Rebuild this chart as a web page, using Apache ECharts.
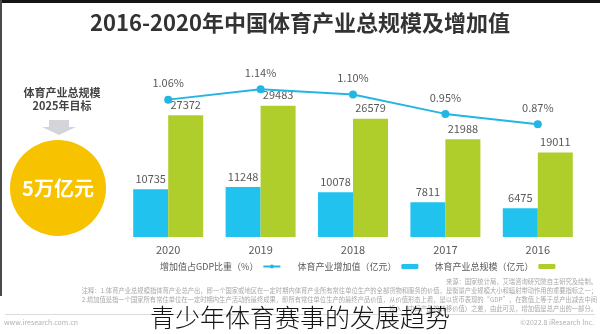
<!DOCTYPE html>
<html>
<head>
<meta charset="utf-8">
<script src="https://cdn.jsdelivr.net/npm/echarts@6/dist/echarts.min.js"></script>
<style>
  html, body { margin: 0; padding: 0; background: #fff; }
  #chart { width: 600px; height: 334px; }
</style>
</head>
<body>
<div id="chart"></div>
<script>
// 2016-2020 China sports industry: total output, value added, value added as share of GDP
const years = ['2016', '2017', '2018', '2019', '2020'];
const totalScale = [19011, 21988, 26579, 29483, 27372];   // 亿元
const addedValue = [6475, 7811, 10078, 11248, 10735];     // 亿元
const gdpShare = [0.87, 0.95, 1.10, 1.14, 1.06];          // %

const nameTotal = '体育产业总规模（亿元）';
const nameAdded = '体育产业增加值（亿元）';
const nameShare = '增加值占GDP比重（%）';

const titleText = '2016-2020年中国体育产业总规模及增加值';
const targetLines = ['体育产业总规模', '2025年目标'];
const targetValue = '5万亿元';
const caption = '青少年体育赛事的发展趋势';

const noteLines = [
  '来源：国家统计局，艾瑞咨询研究院自主研究及绘制。',
  '注释：1.体育产业总规模指体育产业总产出，即一个国家或地区在一定时期内体育产业所有常住单位生产的全部货物和服务的价值，是衡量产业规模大小和辐射带动作用的重要指标之一；',
  '2.增加值是指一个国家所有常住单位在一定时期内生产活动的最终成果，即所有常住单位生产的最终产品价值，从价值形态上看，是以货币表现的“GDP”，在数值上等于总产出减去中间',
  '投入（中间产品的转移价值）之差，由此可见，增加值是总产出的一部分。'
];
const footerLeft = 'www.iresearch.com.cn';
const footerRight = '©2022.8 iResearch Inc.';

const BLUE = '#22C2EE';
const GREEN = '#AFCD2B';
const LINE = '#24B5E3';
const FONT = '"Noto Sans CJK SC", "Noto Sans", sans-serif';

const chart = echarts.init(document.getElementById('chart'), null, { renderer: 'canvas' });

const noteGraphics = noteLines.map((t, i) => ({
  type: 'text',
  right: 3,
  top: 278 + i * 9.3,
  z: 5,
  style: { text: t, fill: '#a8a8a8', font: '6.3px ' + FONT, textAlign: 'right' }
}));

chart.setOption({
  animation: false,
  backgroundColor: '#fff',
  title: {
    text: titleText,
    left: 'center',
    top: 7,
    textStyle: { fontFamily: FONT, fontSize: 22, fontWeight: 'bold', color: '#333' }
  },
  legend: {
    top: 257,
    left: 155,
    width: 440,
    align: 'right',
    itemGap: 16,
    itemWidth: 17,
    itemHeight: 5,
    data: [nameShare, nameAdded, nameTotal],
    textStyle: { fontFamily: FONT, fontSize: 9, color: '#595959' }
  },
  grid: { left: 122, right: 16, top: 59, bottom: 97 },
  xAxis: {
    type: 'category',
    data: years,
    inverse: true,
    axisLine: { show: false },
    axisTick: { show: false },
    axisLabel: { color: '#595959', fontFamily: FONT, fontSize: 11, margin: 7 }
  },
  yAxis: [
    { type: 'value', min: 0, max: 40000, show: false },
    { type: 'value', min: 0, max: 1.3735, show: false }
  ],
  series: [
    {
      name: nameAdded,
      type: 'bar',
      data: addedValue,
      barWidth: 35,
      barGap: '0%',
      itemStyle: { color: BLUE },
      label: { show: true, position: 'top', distance: 5, color: '#595959', fontFamily: FONT, fontSize: 11 }
    },
    {
      name: nameTotal,
      type: 'bar',
      data: totalScale,
      barWidth: 35,
      barGap: '0%',
      itemStyle: { color: GREEN },
      label: { show: true, position: 'top', distance: 5, color: '#595959', fontFamily: FONT, fontSize: 11 }
    },
    {
      name: nameShare,
      type: 'line',
      yAxisIndex: 1,
      data: gdpShare,
      symbol: 'circle',
      symbolSize: 8,
      lineStyle: { color: LINE, width: 2 },
      itemStyle: { color: LINE },
      label: {
        show: true, position: 'top', distance: 7, color: '#595959', fontFamily: FONT, fontSize: 11,
        formatter: p => p.value.toFixed(2) + '%'
      },
      z: 3
    }
  ],
  graphic: [
    // frame edges
    { type: 'rect', left: 0, top: 0, z: 10, shape: { width: 600, height: 3 }, style: { fill: '#151515' } },
    { type: 'rect', left: 0, top: 0, z: 10, shape: { width: 2, height: 296 }, style: { fill: '#4a4a4a' } },
    // 2025 target panel
    {
      type: 'text', x: 62, y: 86, z: 5,
      style: { text: targetLines.join('\n'), fill: '#444', font: 'bold 11px ' + FONT, textAlign: 'center', lineHeight: 13 }
    },
    { type: 'rect', x: 49, y: 120, z: 5, shape: { width: 20, height: 7 }, style: { fill: '#d4d4db' } },
    { type: 'polygon', z: 5, shape: { points: [[42, 127], [76, 127], [59, 135]] }, style: { fill: '#d4d4db' } },
    { type: 'circle', z: 5, shape: { cx: 58, cy: 188, r: 48 }, style: { fill: '#F7C300' } },
    {
      type: 'text', x: 58, y: 188, z: 6,
      style: { text: targetValue, fill: '#fff', font: 'bold 20px ' + FONT, textAlign: 'center', textVerticalAlign: 'middle' }
    },
    // notes and footer
    ...noteGraphics,
    { type: 'line', z: 5, shape: { x1: 5, y1: 314.5, x2: 595, y2: 314.5 }, style: { stroke: '#dcdcdc', lineWidth: 1 } },
    { type: 'text', x: 4, y: 319, z: 5, style: { text: footerLeft, fill: '#b0b0b0', font: '7px ' + FONT } },
    { type: 'text', x: 594, y: 319, z: 5, style: { text: footerRight, fill: '#b0b0b0', font: '7px ' + FONT, textAlign: 'right' } },
    // caption
    {
      type: 'text', x: 300, y: 317, z: 20,
      style: { text: caption, fill: '#151515', font: '300 25px ' + FONT, textAlign: 'center', textVerticalAlign: 'middle' }
    }
  ]
});
</script>
</body>
</html>
